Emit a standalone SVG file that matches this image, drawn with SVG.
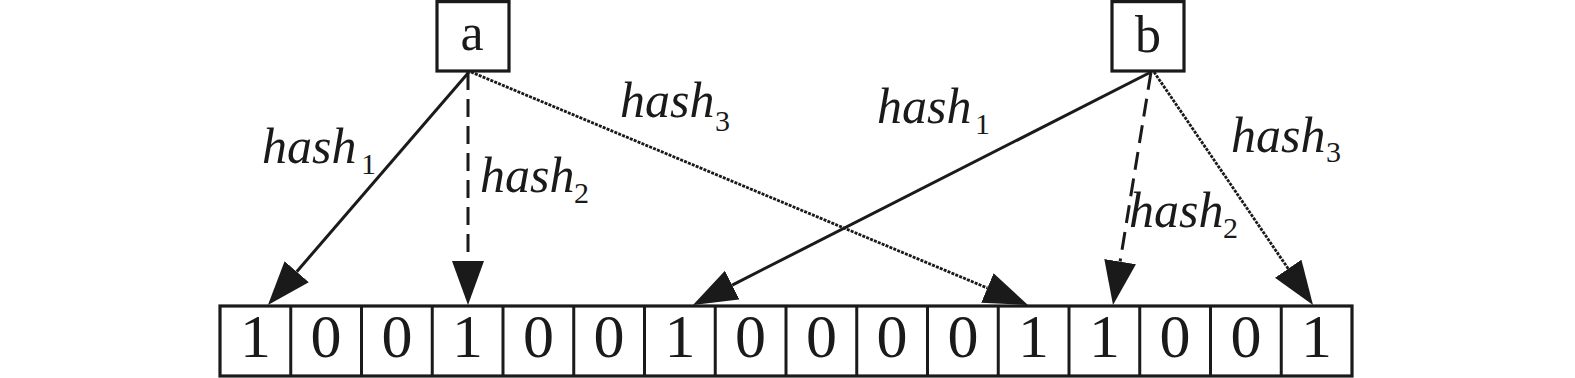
<svg xmlns="http://www.w3.org/2000/svg" width="1575" height="378" viewBox="0 0 1575 378">
<style>
.box{fill:#fff;stroke:#1a1a1a;stroke-width:3.2}
.lbl{font-family:"Liberation Serif","Times New Roman",serif;fill:#1a1a1a}
.node{font-size:52px;text-anchor:middle}
.bit{font-size:62px;text-anchor:middle}
.h{font-style:italic;font-size:50px}
.sub{font-size:30px;font-style:normal}
.e{fill:none;stroke:#1a1a1a;stroke-width:3}
.dash{stroke-dasharray:18 9}
.dot{stroke-width:2.8;stroke-dasharray:3 1.2}
</style>
<defs>
<marker id="ah" markerUnits="userSpaceOnUse" markerWidth="46" markerHeight="34" viewBox="0 0 46 34" refX="0" refY="16" orient="auto">
<path d="M0,0 L44,16 L0,32 z" fill="#1a1a1a"/>
</marker>
</defs>
<rect width="1575" height="378" fill="#fff"/>
<g id="node-a">
<rect class="box" x="437" y="1.6" width="72" height="69.4"/>
<text class="lbl node" x="472" y="50">a</text>
</g>
<g id="node-b">
<rect class="box" x="1112" y="1.6" width="72" height="69.4"/>
<text class="lbl node" x="1148" y="52">b</text>
</g>
<g id="bits">
<rect class="box" x="220" y="306" width="1132" height="70"/>
<g class="e">
<line x1="290.75" y1="306" x2="290.75" y2="376"/>
<line x1="361.5" y1="306" x2="361.5" y2="376"/>
<line x1="432.25" y1="306" x2="432.25" y2="376"/>
<line x1="503" y1="306" x2="503" y2="376"/>
<line x1="573.75" y1="306" x2="573.75" y2="376"/>
<line x1="644.5" y1="306" x2="644.5" y2="376"/>
<line x1="715.25" y1="306" x2="715.25" y2="376"/>
<line x1="786" y1="306" x2="786" y2="376"/>
<line x1="856.75" y1="306" x2="856.75" y2="376"/>
<line x1="927.5" y1="306" x2="927.5" y2="376"/>
<line x1="998.25" y1="306" x2="998.25" y2="376"/>
<line x1="1069" y1="306" x2="1069" y2="376"/>
<line x1="1139.75" y1="306" x2="1139.75" y2="376"/>
<line x1="1210.5" y1="306" x2="1210.5" y2="376"/>
<line x1="1281.25" y1="306" x2="1281.25" y2="376"/>
</g>
<g class="lbl bit">
<text x="255.4" y="357">1</text>
<text x="326.1" y="357">0</text>
<text x="396.9" y="357">0</text>
<text x="467.6" y="357">1</text>
<text x="538.4" y="357">0</text>
<text x="609.1" y="357">0</text>
<text x="679.9" y="357">1</text>
<text x="750.6" y="357">0</text>
<text x="821.4" y="357">0</text>
<text x="892.1" y="357">0</text>
<text x="962.9" y="357">0</text>
<text x="1033.6" y="357">1</text>
<text x="1104.4" y="357">1</text>
<text x="1175.1" y="357">0</text>
<text x="1245.9" y="357">0</text>
<text x="1316.6" y="357">1</text>
</g>
</g>
<g id="connectors">
<line class="e" x1="469" y1="72" x2="296.7" y2="271.7" marker-end="url(#ah)"/>
<line class="e dash" x1="468" y1="72" x2="468" y2="261" marker-end="url(#ah)"/>
<line class="e dot" x1="471" y1="72" x2="987.4" y2="288" marker-end="url(#ah)"/>
<line class="e" x1="1151" y1="72" x2="732.2" y2="285.1" marker-end="url(#ah)"/>
<line class="e dash" x1="1151" y1="72" x2="1120.1" y2="261.6" marker-end="url(#ah)"/>
<line class="e dot" x1="1154" y1="72" x2="1288.2" y2="268.7" marker-end="url(#ah)"/>
</g>
<g id="labels" class="lbl">
<text class="h" x="262" y="163">hash<tspan class="sub" x="361" y="174">1</tspan></text>
<text class="h" x="480" y="192">hash<tspan class="sub" x="574" y="203">2</tspan></text>
<text class="h" x="620" y="117">hash<tspan class="sub" x="715" y="131">3</tspan></text>
<text class="h" x="877" y="123">hash<tspan class="sub" x="975" y="134">1</tspan></text>
<text class="h" x="1129" y="227">hash<tspan class="sub" x="1223" y="238">2</tspan></text>
<text class="h" x="1231" y="152">hash<tspan class="sub" x="1326" y="162">3</tspan></text>
</g>
</svg>
